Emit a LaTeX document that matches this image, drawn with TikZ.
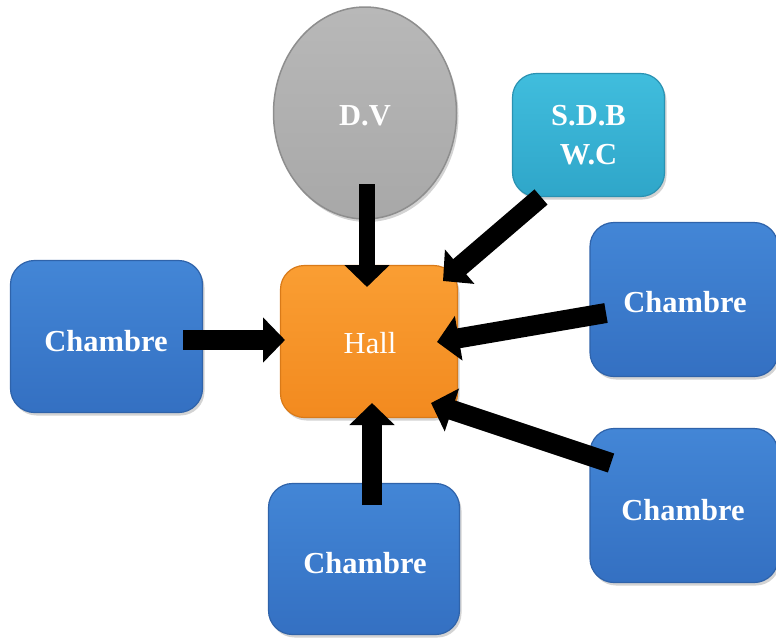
\documentclass[tikz,border=0pt]{standalone}
\usepackage{fontspec}
\setmainfont{Liberation Serif}
\usetikzlibrary{shapes.geometric,arrows.meta,shadows}
\definecolor{blueTop}{HTML}{4386D6}
\definecolor{blueBot}{HTML}{3470C2}
\definecolor{blueRim}{HTML}{2F63AA}
\definecolor{orTop}{HTML}{FA9E33}
\definecolor{orBot}{HTML}{F28A1F}
\definecolor{orRim}{HTML}{D97A18}
\definecolor{tealTop}{HTML}{40BDDD}
\definecolor{tealBot}{HTML}{2FA6C9}
\definecolor{tealRim}{HTML}{2A92B2}
\definecolor{grTop}{HTML}{B8B8B8}
\definecolor{grBot}{HTML}{A8A8A8}
\definecolor{grRim}{HTML}{8E8E8E}
\tikzset{
  boxbase/.style={rectangle, rounded corners=24pt, line width=1.2pt,
    drop shadow={opacity=0.35, shadow xshift=2pt, shadow yshift=-3pt},
    text=white, font=\fontsize{30.5}{39}\selectfont\bfseries, align=center, inner sep=0pt},
  chambre/.style={boxbase, draw=blueRim, top color=blueTop, bottom color=blueBot},
  hallbox/.style={boxbase, draw=orRim, top color=orTop, bottom color=orBot},
  sdbbox/.style={boxbase, draw=tealRim, top color=tealTop, bottom color=tealBot},
  dvshape/.style={ellipse, draw=grRim, line width=1.5pt, top color=grTop, bottom color=grBot,
    drop shadow={opacity=0.35, shadow xshift=2pt, shadow yshift=-3pt},
    inner sep=0pt},
  lbl/.style={text=white, font=\fontsize{30.5}{39}\selectfont\bfseries},
  blockarrow/.style={draw=black, line width=20pt,
    -{Triangle[width=44pt,length=22pt]}},
}
\begin{document}
\begin{tikzpicture}[x=1pt,y=-1pt]
\useasboundingbox (0,0) rectangle (776,638);
\node[dvshape, minimum width=183pt, minimum height=212pt] (dv) at (365,113) {};
\node[lbl] (dvt) at (365,116) {D.V};
\node[sdbbox, minimum width=152pt, minimum height=123pt] (sdb) at (588.5,135) {S.D.B\\W.C};
\node[chambre, minimum width=192pt, minimum height=152pt] (cl) at (106.5,336.5) {};
\node[lbl] (clt) at (106,341) {Chambre};
\node[hallbox, minimum width=177pt, minimum height=152pt] (hall) at (369,341.5) {};
\node[lbl, font=\fontsize{30.5}{39}\selectfont] (hallt) at (370,343) {Hall};
\node[chambre, minimum width=188pt, minimum height=154pt] (crt) at (684,299.5) {};
\node[lbl] (crtt) at (685,302) {Chambre};
\node[chambre, minimum width=188pt, minimum height=154pt] (crb) at (684,505.5) {};
\node[lbl] (crbt) at (683,510) {Chambre};
\node[chambre, minimum width=191pt, minimum height=151pt] (cb) at (364,559) {};
\node[lbl] (cbt) at (365,563) {Chambre};
% arrow endpoints
\coordinate (aLs) at (183,340);  \coordinate (aLe) at (285,340);
\coordinate (aTs) at (367,184);  \coordinate (aTe) at (367,287);
\coordinate (aTRs) at (541,197); \coordinate (aTRe) at (443,281);
\coordinate (aRs) at (606,313);  \coordinate (aRe) at (437,342);
\coordinate (aBRs) at (611,463); \coordinate (aBRe) at (431,403);
\coordinate (aBs) at (372,505);  \coordinate (aBe) at (372,403);
\draw[blockarrow] (aLs) -- (aLe);
\draw[blockarrow, line width=16pt] (aTs) -- (aTe);
\draw[blockarrow] (aTRs) -- (aTRe);
\draw[blockarrow] (aRs) -- (aRe);
\draw[blockarrow] (aBRs) -- (aBRe);
\draw[blockarrow] (aBs) -- (aBe);
\end{tikzpicture}
\end{document}
